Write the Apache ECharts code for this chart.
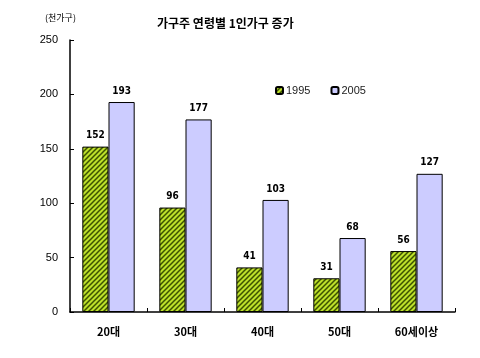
<!DOCTYPE html>
<html>
<head>
<meta charset="utf-8">
<script src="https://cdn.jsdelivr.net/npm/echarts@6/dist/echarts.min.js"></script>
<style>
  html, body { margin: 0; padding: 0; background: #fff; }
  #chart { width: 480px; height: 358px; }
</style>
</head>
<body>
<div id="chart"></div>
<script>
const categories = ['20대', '30대', '40대', '50대', '60세이상']
const values1995 = [152, 96, 41, 31, 56]
const values2005 = [193, 177, 103, 68, 127]
const yTicks = [0, 50, 100, 150, 200, 250]

// diagonal hatch for the 1995 bars
const makeHatch = () => {
  const c = document.createElement('canvas')
  c.width = 5
  c.height = 5
  const ctx = c.getContext('2d')
  ctx.fillStyle = '#bde02a'
  ctx.fillRect(0, 0, 5, 5)
  ctx.strokeStyle = '#3c5200'
  ctx.lineWidth = 1.5
  ctx.beginPath()
  ctx.moveTo(-1, 6); ctx.lineTo(6, -1)
  ctx.moveTo(-3.5, 3.5); ctx.lineTo(3.5, -3.5)
  ctx.moveTo(1.5, 8.5); ctx.lineTo(8.5, 1.5)
  ctx.stroke()
  return c
}

const chart = echarts.init(document.getElementById('chart'))
const labelStyle = {
  show: true,
  position: 'top',
  distance: 6,
  color: '#000',
  fontSize: 10,
  fontWeight: 'bold',
  fontFamily: 'DejaVu Sans Condensed'
}

const option = {
  animation: false,
  title: [
    {
      text: '가구주 연령별 1인가구 증가',
      left: 152,
      top: 12,
      textStyle: { fontSize: 12, fontWeight: 'bold', color: '#000', fontFamily: 'Noto Sans CJK KR' }
    },
    {
      text: '(천가구)',
      left: 40,
      top: 8,
      textStyle: { fontSize: 9, fontWeight: 'normal', color: '#000', fontFamily: 'Noto Sans CJK KR' }
    }
  ],
  legend: {
    left: 270,
    top: 80,
    itemWidth: 7,
    itemHeight: 7,
    itemGap: 20,
    textStyle: { fontSize: 11, color: '#222', padding: [0, 0, 0, -2] },
    data: ['1995', '2005']
  },
  grid: { left: 70, right: 25, top: 40, bottom: 46 },
  xAxis: {
    type: 'category',
    data: categories,
    axisLine: { lineStyle: { color: '#000', width: 1.5 } },
    axisTick: { show: true, length: 4, inside: true, lineStyle: { color: '#000' } },
    axisLabel: { color: '#000', fontSize: 11, fontWeight: 'bold', margin: 14, fontFamily: 'Noto Sans CJK KR' }
  },
  yAxis: {
    type: 'value',
    min: yTicks[0],
    max: yTicks[yTicks.length - 1],
    interval: 50,
    axisLine: { show: true, lineStyle: { color: '#000', width: 1.5 } },
    axisTick: { show: true, length: 4, inside: true, lineStyle: { color: '#000' } },
    axisLabel: { color: '#000', fontSize: 11, margin: 12 },
    splitLine: { show: false }
  },
  series: [
    {
      name: '1995',
      type: 'bar',
      data: values1995,
      barGap: '0%',
      barCategoryGap: '32%',
      itemStyle: { color: { image: makeHatch(), repeat: 'repeat' }, borderColor: '#000', borderWidth: 1 },
      label: labelStyle
    },
    {
      name: '2005',
      type: 'bar',
      data: values2005,
      itemStyle: { color: '#ccccff', borderColor: '#000', borderWidth: 1 },
      label: labelStyle
    }
  ]
}

chart.setOption(option)
</script>
</body>
</html>
